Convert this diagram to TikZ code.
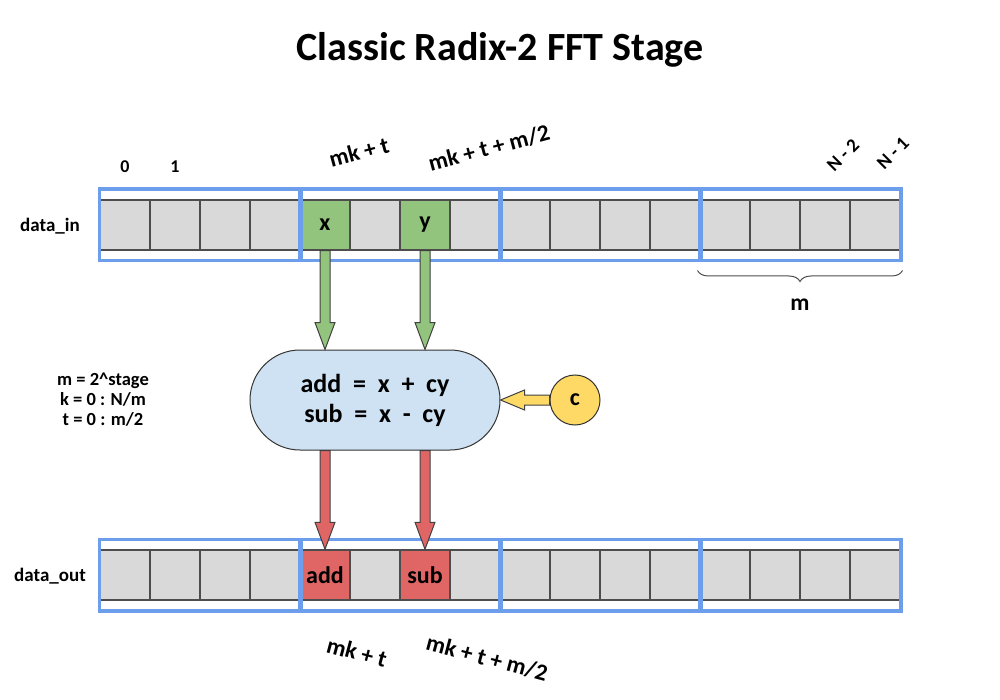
\documentclass[tikz,border=0pt]{standalone}
\usepackage{fontspec}
\setmainfont{Carlito}
\usetikzlibrary{calc,fit,decorations.pathreplacing}
\definecolor{cellgray}{HTML}{D9D9D9}
\definecolor{celledge}{HTML}{4D4D4D}
\definecolor{grpblue}{HTML}{6D9EEB}
\definecolor{ingreen}{HTML}{93C47D}
\definecolor{outred}{HTML}{E06666}
\definecolor{boxblue}{HTML}{CFE2F3}
\definecolor{cyellow}{HTML}{FFD966}
\newcommand\fs[1]{\fontsize{#1}{#1}\selectfont}
\tikzset{
  cell/.style={draw=celledge, line width=1.5pt, fill=cellgray, minimum width=50pt, minimum height=50pt, inner sep=0pt, font=\bfseries\fs{24}},
  grp/.style={draw=grpblue, line width=3.5pt, inner xsep=0pt, inner ysep=10pt},
  barrow/.style={draw=black!75, line width=1pt, line join=miter},
  lbl/.style={font=\bfseries\fs{19}},
  idx/.style={font=\bfseries\fs{23.5}},
}
\newcommand\vblockarrow[3]{%
  \draw[barrow,fill=#3] let \p1=(#1), \p2=(#2) in
    (\x1-5pt,\y1) -- (\x1-5pt,\y2+27pt) -- (\x1-10pt,\y2+27pt) -- (\x2,\y2)
    -- (\x1+10pt,\y2+27pt) -- (\x1+5pt,\y2+27pt) -- (\x1+5pt,\y1) -- cycle;}
\begin{document}
\begin{tikzpicture}[x=1pt,y=-1pt]
\useasboundingbox (0,0) rectangle (1000,700);
\node[font=\bfseries\fs{40}] (title) at (500,50) {Classic Radix-2 FFT Stage};
% cells
\foreach \i in {0,...,15}{
  \node[cell] (in\i) at (125+50*\i,225) {};
  \node[cell] (out\i) at (125+50*\i,575) {};
}
\node[cell, fill=ingreen] (x) at (in4) {x};
\node[cell, fill=ingreen] (y) at (in6) {y};
\node[cell, fill=outred] (add) at (out4) {add};
\node[cell, fill=outred] (sub) at (out6) {sub};
% groups
\node[grp, fit=(in0)(in3)] (gi0) {};
\node[grp, fit=(in4)(in7)] (gi1) {};
\node[grp, fit=(in8)(in11)] (gi2) {};
\node[grp, fit=(in12)(in15)] (gi3) {};
\node[grp, fit=(out0)(out3)] (go0) {};
\node[grp, fit=(out4)(out7)] (go1) {};
\node[grp, fit=(out8)(out11)] (go2) {};
\node[grp, fit=(out12)(out15)] (go3) {};
% row labels
\node[lbl] (din) at (50,226) {data\_in};
\node[lbl] (dout) at (50,576) {data\_out};
% index labels
\node[lbl, font=\bfseries\fs{18}] (i0) at (125,167) {0};
\node[lbl, font=\bfseries\fs{18}] (i1) at (175,167) {1};
\node[idx, rotate=15] (ia) at (359,152) {mk + t};
\node[idx, rotate=15] (ib) at (489,148) {mk + t + m/2};
\node[lbl, rotate=45] (n2) at (843,155) {N - 2};
\node[lbl, rotate=45] (n1) at (893,153) {N - 1};
\node[idx, rotate=-15] (oa) at (357,652) {mk + t};
\node[idx, rotate=-15] (ob) at (487,658) {mk + t + m/2};
% brace
\coordinate (bl) at ($(gi3.south west)+(0,-8pt)$);
\coordinate (br) at ($(gi3.south east)+(0,-8pt)$);
\draw[draw=black!70, line width=1pt, decorate, decoration={brace, mirror, amplitude=11pt}] (bl) -- (br);
\node[idx] (m) at (800,305) {m};
% butterfly
\node[draw=black!80, line width=1pt, fill=boxblue, rounded corners=50pt, minimum width=250pt, minimum height=100pt, font=\bfseries\fs{26}, align=center] (bf) at (375,400)
  {add\ \ =\ \ x\ \ +\ \ cy\\[4pt] sub\ \ =\ \ x\ \ -\ \ cy};
\node[circle, draw=black!80, line width=1pt, fill=cyellow, minimum size=50pt, inner sep=0pt, font=\bfseries\fs{24}] (c) at (575,400) {c};
\node[lbl, align=center, font=\bfseries\fs{18.5}] (par) at (103,400) {m = 2\textasciicircum stage\\[1.5pt] k = 0 : N/m\\[1.5pt] t = 0 : m/2};
% arrows
\vblockarrow{x.south}{x.south |- bf.north}{ingreen}
\vblockarrow{y.south}{y.south |- bf.north}{ingreen}
\vblockarrow{add.north |- bf.south}{add.north}{outred}
\vblockarrow{sub.north |- bf.south}{sub.north}{outred}
\draw[barrow, fill=cyellow] let \p1=(c.west), \p2=(bf.east) in
  (\x1,\y1+5pt) -- (\x2+24pt,\y1+5pt) -- (\x2+24pt,\y1+10pt) -- (\x2,\y2)
  -- (\x2+24pt,\y1-10pt) -- (\x2+24pt,\y1-5pt) -- (\x1,\y1-5pt) -- cycle;
\end{tikzpicture}
\end{document}
